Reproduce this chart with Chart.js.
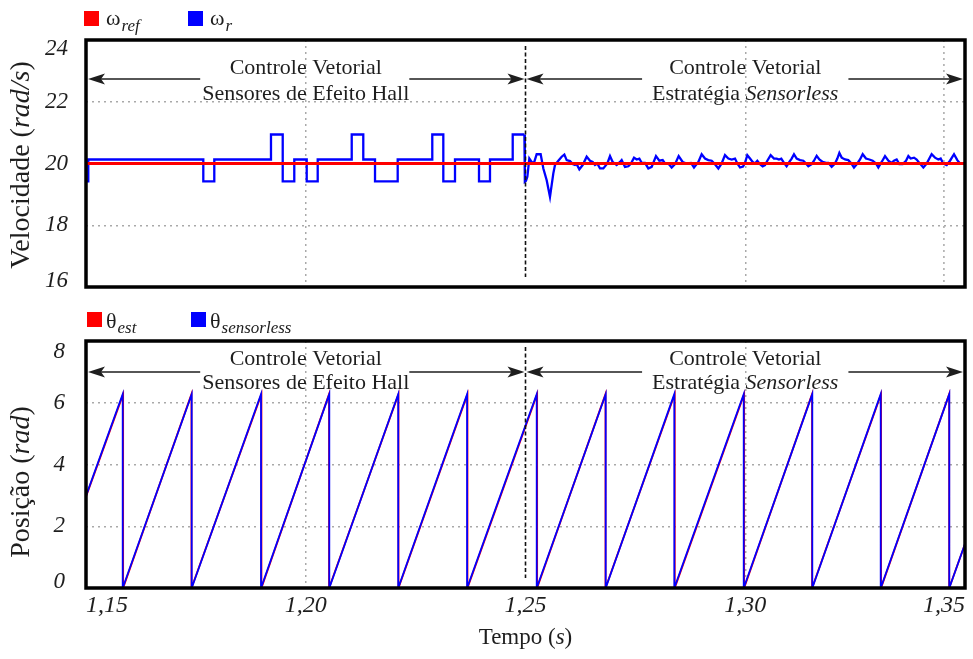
<!DOCTYPE html>
<html>
<head>
<meta charset="utf-8">
<script src="https://cdn.jsdelivr.net/npm/chart.js@4"></script>
<style>
  html, body { margin: 0; padding: 0; background: #fff; }
  #wrap { position: relative; width: 973px; height: 659px; }
  canvas { position: absolute; left: 0; }
  #top { top: 0; }
  #bottom { top: 300px; }
</style>
</head>
<body>
<div id="wrap">
  <canvas id="top" width="973" height="300"></canvas>
  <canvas id="bottom" width="973" height="359"></canvas>
</div>
<script>
// eixos
const timeTicks = [1.15, 1.20, 1.25, 1.30, 1.35];
const timeTickLabels = ['1,15', '1,20', '1,25', '1,30', '1,35'];
const timeGrid = [1.20, 1.30];
const switchTime = 1.25;
const speedTicks = [16, 18, 20, 22, 24];
const speedTickLabels = ['16', '18', '20', '22', '24'];
const posTicks = [0, 2, 4, 6, 8];
const posTickLabels = ['0', '2', '4', '6', '8'];

// velocidade (rad/s): [t, valor]
const omegaRef = [[1.15, 20], [1.35, 20]];
// trecho com sensores Hall (degraus)
const omegaHall = [
  [1.15000, 19.42], [1.15052, 20.13], [1.17669, 19.42], [1.17919, 20.13],
  [1.19209, 20.94], [1.19476, 19.42], [1.19739, 20.13], [1.20022, 19.42],
  [1.20272, 20.13], [1.21046, 20.94], [1.21309, 20.13], [1.21576, 19.42],
  [1.22092, 20.13], [1.22879, 20.94], [1.23130, 19.42], [1.23396, 20.13],
  [1.23942, 19.42], [1.24192, 20.13], [1.24709, 20.94], [1.24975, 20.94]
];
// trecho sensorless
const omegaSensorless = [
  [1.24975, 20.94], [1.24985, 19.41], [1.25011, 19.44], [1.25042, 19.57], [1.25087, 20.16], [1.25140, 20.05],
  [1.25193, 20.02], [1.25254, 20.30], [1.25345, 20.30], [1.25406, 19.84], [1.25482, 19.46], [1.25557, 18.92],
  [1.25633, 19.68], [1.25671, 19.95], [1.25747, 20.09], [1.25823, 20.22], [1.25884, 20.29], [1.25937, 20.11],
  [1.26013, 20.08], [1.26073, 19.98], [1.26126, 19.95], [1.26164, 19.98], [1.26225, 19.81], [1.26301, 19.95],
  [1.26392, 20.22], [1.26468, 20.09], [1.26528, 20.05], [1.26581, 19.95], [1.26634, 20.00], [1.26695, 19.84],
  [1.26771, 19.84], [1.26862, 20.00], [1.26923, 20.24], [1.26983, 20.05], [1.27074, 19.95], [1.27150, 20.05],
  [1.27188, 20.11], [1.27264, 19.89], [1.27340, 19.91], [1.27400, 20.00], [1.27469, 20.19], [1.27529, 20.13],
  [1.27590, 20.16], [1.27643, 20.02], [1.27719, 20.02], [1.27795, 19.84], [1.27871, 19.89], [1.27969, 20.24],
  [1.28045, 20.09], [1.28121, 20.11], [1.28174, 20.00], [1.28250, 20.00], [1.28326, 19.87], [1.28402, 19.98],
  [1.28485, 20.24], [1.28576, 20.05], [1.28667, 20.00], [1.28766, 20.02], [1.28834, 19.87], [1.28933, 20.05],
  [1.29008, 20.30], [1.29084, 20.16], [1.29160, 20.11], [1.29236, 20.09], [1.29297, 20.00], [1.29388, 19.84],
  [1.29463, 20.00], [1.29539, 20.27], [1.29615, 20.16], [1.29691, 20.13], [1.29767, 20.16], [1.29820, 20.00],
  [1.29881, 19.87], [1.29950, 19.90], [1.29994, 20.02], [1.30047, 20.27], [1.30108, 20.16], [1.30169, 20.05],
  [1.30222, 20.00], [1.30275, 20.09], [1.30336, 19.98], [1.30396, 19.91], [1.30449, 19.95], [1.30502, 20.09],
  [1.30578, 20.27], [1.30654, 20.16], [1.30715, 20.16], [1.30767, 20.13], [1.30820, 20.16], [1.30881, 20.02],
  [1.30941, 19.91], [1.31003, 20.05], [1.31056, 20.16], [1.31109, 20.30], [1.31170, 20.16], [1.31246, 20.11],
  [1.31322, 20.09], [1.31382, 20.00], [1.31435, 19.91], [1.31511, 19.98], [1.31564, 20.09], [1.31625, 20.25],
  [1.31686, 20.13], [1.31762, 20.05], [1.31837, 20.02], [1.31890, 20.02], [1.31966, 19.89], [1.32042, 20.00],
  [1.32095, 20.16], [1.32141, 20.34], [1.32194, 20.19], [1.32270, 20.13], [1.32345, 20.11], [1.32406, 20.02],
  [1.32474, 19.87], [1.32550, 20.00], [1.32611, 20.13], [1.32672, 20.30], [1.32747, 20.16], [1.32823, 20.13],
  [1.32899, 20.09], [1.32975, 20.00], [1.33028, 19.87], [1.33104, 20.05], [1.33180, 20.24], [1.33256, 20.09],
  [1.33331, 20.02], [1.33384, 20.09], [1.33445, 20.13], [1.33506, 19.98], [1.33582, 19.98], [1.33658, 20.09],
  [1.33711, 20.24], [1.33764, 20.16], [1.33840, 20.19], [1.33900, 20.13], [1.33961, 20.02], [1.34052, 19.87],
  [1.34128, 20.00], [1.34188, 20.16], [1.34241, 20.30], [1.34317, 20.19], [1.34393, 20.13], [1.34446, 20.16],
  [1.34507, 20.00], [1.34583, 19.95], [1.34659, 20.09], [1.34750, 20.30], [1.34825, 20.11], [1.34886, 20.00],
  [1.34947, 20.00], [1.35000, 20.00]
];

// posição (rad): [t, valor]
const thetaEst = [
  [1.15, 2.96], [1.15845, 6.27], [1.15845, 0], [1.17400, 6.28], [1.17400, 0], [1.18992, 6.28], [1.18992, 0],
  [1.20530, 6.28], [1.20530, 0], [1.22110, 6.28], [1.22110, 0], [1.23680, 6.28], [1.23680, 0],
  [1.25265, 6.28], [1.25265, 0], [1.26820, 6.28], [1.26820, 0], [1.28396, 6.28], [1.28396, 0],
  [1.29975, 6.28], [1.29975, 0], [1.31520, 6.28], [1.31520, 0], [1.33090, 6.28], [1.33090, 0],
  [1.34640, 6.28], [1.34640, 0], [1.35, 1.42]
];
const thetaSensorless = [
  [1.15, 2.98], [1.15835, 6.28], [1.15835, 0], [1.17405, 6.28], [1.17405, 0], [1.18982, 6.28], [1.18982, 0],
  [1.20536, 6.28], [1.20536, 0], [1.22104, 6.28], [1.22104, 0], [1.23671, 6.28], [1.23671, 0],
  [1.25255, 6.28], [1.25255, 0], [1.26825, 6.28], [1.26825, 0], [1.28386, 6.28], [1.28386, 0],
  [1.29965, 6.28], [1.29965, 0], [1.31526, 6.28], [1.31526, 0], [1.33082, 6.28], [1.33082, 0],
  [1.34643, 6.28], [1.34643, 0], [1.35, 1.43]
];

const SERIF = "'Liberation Serif', 'Times New Roman', serif";
const INK = '#1e1e1e';
const RED = '#ff0000';
const BLUE = '#0000ff';
const GRID = '#a9a9a9';

const toXY = pairs => pairs.map(([x, y]) => ({ x: x, y: y }));
const near = (a, list) => list.some(v => Math.abs(v - a) < 1e-6);

function fontOf(size, italic) {
  return (italic ? 'italic ' : '') + size + 'px ' + SERIF;
}
function runsWidth(ctx, runs, size) {
  let w = 0;
  runs.forEach(([txt, it]) => { ctx.font = fontOf(size, it); w += ctx.measureText(txt).width; });
  return w;
}
function drawRuns(ctx, runs, x, y, size) {
  runs.forEach(([txt, it]) => {
    ctx.font = fontOf(size, it);
    ctx.fillText(txt, x, y);
    x += ctx.measureText(txt).width;
  });
}
function drawArrow(ctx, from, tip, y) {
  const d = tip > from ? 1 : -1;
  ctx.beginPath();
  ctx.moveTo(from, y);
  ctx.lineTo(tip - d * 12, y);
  ctx.stroke();
  ctx.beginPath();
  ctx.moveTo(tip, y);
  ctx.lineTo(tip - d * 17, y - 5.5);
  ctx.lineTo(tip - d * 13, y);
  ctx.lineTo(tip - d * 17, y + 5.5);
  ctx.closePath();
  ctx.fill();
}

const decor = {
  id: 'decor',
  afterDatasetsDraw(chart, args, o) {
    const ctx = chart.ctx;
    const a = chart.chartArea;
    const xs = chart.scales.x;
    ctx.save();
    ctx.textBaseline = 'alphabetic';

    // linhas de grade extras
    ctx.strokeStyle = GRID;
    ctx.lineWidth = 1.5;
    ctx.setLineDash([2, 4]);
    (o.extraGrid || []).forEach(t => {
      const x = xs.getPixelForValue(t);
      ctx.beginPath(); ctx.moveTo(x, a.top); ctx.lineTo(x, a.bottom); ctx.stroke();
    });

    // instante da troca de estratégia
    const sx = xs.getPixelForValue(switchTime);
    ctx.strokeStyle = '#111';
    ctx.lineWidth = 1.6;
    ctx.setLineDash([4, 2.5]);
    ctx.beginPath(); ctx.moveTo(sx, a.top + 6); ctx.lineTo(sx, a.bottom - 10); ctx.stroke();
    ctx.setLineDash([]);

    // anotações
    ctx.fillStyle = INK;
    ctx.strokeStyle = INK;
    ctx.lineWidth = 1.5;
    const regions = [
      { c: 1.20, lines: [[['Controle Vetorial', false]], [['Sensores de Efeito Hall', false]]],
        gapL: 2, gapR: 0, tipL: a.left + 2, tipR: sx - 1 },
      { c: 1.30, lines: [[['Controle Vetorial', false]], [['Estratégia ', false], ['Sensorless', true]]],
        gapL: 10, gapR: 10, tipL: sx + 1, tipR: a.right - 2 }
    ];
    regions.forEach(r => {
      const cx = xs.getPixelForValue(r.c);
      let half = 0;
      r.lines.forEach((runs, i) => {
        const w = runsWidth(ctx, runs, 22);
        half = Math.max(half, w / 2);
        drawRuns(ctx, runs, cx - w / 2, a.top + o.noteBase[i], 22);
      });
      const ay = a.top + o.arrowDy;
      drawArrow(ctx, cx - half - r.gapL, r.tipL, ay);
      drawArrow(ctx, cx + half + r.gapR, r.tipR, ay);
    });

    // moldura
    ctx.strokeStyle = '#000';
    ctx.lineWidth = 3.5;
    ctx.strokeRect(a.left, a.top, a.right - a.left, a.bottom - a.top);

    // legenda
    o.legend.forEach(item => {
      ctx.fillStyle = item.color;
      ctx.fillRect(item.x, o.legendY, 15, 15);
      ctx.fillStyle = INK;
      ctx.font = fontOf(22, false);
      const sx0 = item.x + o.symDx;
      ctx.fillText(item.sym, sx0, o.symBase);
      const w = ctx.measureText(item.sym).width;
      ctx.font = fontOf(17, true);
      ctx.fillText(item.sub, sx0 + w + 1, o.subBase);
    });

    // título do eixo y
    ctx.fillStyle = INK;
    const tw = runsWidth(ctx, o.yTitle, o.yTitleSize);
    ctx.translate(22, o.yTitleCenter);
    ctx.rotate(-Math.PI / 2);
    ctx.textBaseline = 'middle';
    drawRuns(ctx, o.yTitle, -tw / 2, 0, o.yTitleSize);
    ctx.setTransform(1, 0, 0, 1, 0, 0);

    // título do eixo x
    if (o.xTitle) {
      const xw = runsWidth(ctx, o.xTitle, 23);
      drawRuns(ctx, o.xTitle, (a.left + a.right) / 2 - xw / 2, o.xTitleY, 23);
    }
    ctx.restore();
  }
};

function timeAxis(showTicks, height) {
  return {
    type: 'linear',
    min: 1.15,
    max: 1.35,
    afterBuildTicks: s => { s.ticks = timeTicks.map(v => ({ value: v })); },
    ticks: {
      display: showTicks,
      align: 'inner',
      padding: 3,
      color: INK,
      font: { family: SERIF, style: 'italic', size: 24 },
      callback: (v, i) => timeTickLabels[i]
    },
    grid: {
      drawTicks: false,
      lineWidth: 1.5,
      color: c => (c.tick && near(c.tick.value, timeGrid)) ? GRID : 'rgba(0,0,0,0)'
    },
    border: { display: false, dash: [2, 4] },
    afterFit: s => {
      s.height = height;
      s.paddingLeft = 0; s.paddingRight = 0; s.paddingTop = 0; s.paddingBottom = 0;
    }
  };
}

// lhLow / lhHigh: deslocamento dos rótulos extremos para dentro da moldura
function valueAxis(min, max, ticks, labels, pad, lhLow, lhHigh) {
  const n = ticks.length;
  return {
    min: min,
    max: max,
    afterBuildTicks: s => { s.ticks = ticks.map(v => ({ value: v })); },
    ticks: {
      color: INK,
      padding: pad,
      font: c => ({
        family: SERIF, style: 'italic', size: 23,
        lineHeight: c.index === 0 ? lhLow : (c.index === n - 1 ? lhHigh : '18px')
      }),
      callback: (v, i) => i === 0 ? [labels[0], ''] : (i === n - 1 ? ['', labels[n - 1]] : labels[i])
    },
    grid: {
      drawTicks: false,
      lineWidth: 1.5,
      color: c => (c.tick && c.tick.value > min && c.tick.value < max) ? GRID : 'rgba(0,0,0,0)'
    },
    border: { display: false, dash: [2, 4] },
    afterFit: s => {
      s.width = 86;
      s.paddingLeft = 0; s.paddingRight = 0; s.paddingTop = 0; s.paddingBottom = 0;
    }
  };
}

const lineDefaults = { pointRadius: 0, tension: 0, fill: false };

new Chart(document.getElementById('top'), {
  type: 'line',
  data: {
    datasets: [
      Object.assign({ label: 'ω_ref', data: toXY(omegaRef), borderColor: RED, borderWidth: 3, order: 0 }, lineDefaults),
      Object.assign({ label: 'ω_r', data: toXY(omegaHall), borderColor: BLUE, borderWidth: 2.3, stepped: true, order: 1 }, lineDefaults),
      Object.assign({ label: 'ω_r', data: toXY(omegaSensorless), borderColor: BLUE, borderWidth: 2.3, order: 1 }, lineDefaults)
    ]
  },
  options: {
    responsive: false,
    animation: false,
    events: [],
    layout: { padding: { left: 0, right: 8, top: 40, bottom: 13 } },
    plugins: {
      legend: { display: false },
      tooltip: { enabled: false },
      decor: {
        legend: [
          { color: RED, x: 84, sym: 'ω', sub: 'ref' },
          { color: BLUE, x: 188, sym: 'ω', sub: 'r' }
        ],
        legendY: 11, symDx: 22, symBase: 25, subBase: 31,
        yTitle: [['Velocidade (', false], ['rad/s', true], [')', false]],
        yTitleSize: 28, yTitleCenter: 165,
        noteBase: [34, 60], arrowDy: 39,
        extraGrid: [1.3452]
      }
    },
    scales: {
      x: timeAxis(false, 0),
      y: valueAxis(16, 24, speedTicks, speedTickLabels, 18, '12px', '18px')
    }
  },
  plugins: [decor]
});

new Chart(document.getElementById('bottom'), {
  type: 'line',
  data: {
    datasets: [
      Object.assign({ label: 'θ_est', data: toXY(thetaEst), borderColor: RED, borderWidth: 1.8, order: 1 }, lineDefaults),
      Object.assign({ label: 'θ_sensorless', data: toXY(thetaSensorless), borderColor: BLUE, borderWidth: 1.8, order: 0 }, lineDefaults)
    ]
  },
  options: {
    responsive: false,
    animation: false,
    events: [],
    layout: { padding: { left: 0, right: 8, top: 41, bottom: 0 } },
    plugins: {
      legend: { display: false },
      tooltip: { enabled: false },
      decor: {
        legend: [
          { color: RED, x: 87, sym: 'θ', sub: 'est' },
          { color: BLUE, x: 191, sym: 'θ', sub: 'sensorless' }
        ],
        legendY: 12, symDx: 19, symBase: 28, subBase: 33,
        yTitle: [['Posição (', false], ['rad', true], [')', false]],
        yTitleSize: 28, yTitleCenter: 182,
        noteBase: [24, 48], arrowDy: 31,
        xTitle: [['Tempo (', false], ['s', true], [')', false]],
        xTitleY: 338
      }
    },
    scales: {
      x: timeAxis(true, 71),
      y: valueAxis(0, 8, posTicks, posTickLabels, 21, '12px', '22px')
    }
  },
  plugins: [decor]
});
</script>
</body>
</html>
